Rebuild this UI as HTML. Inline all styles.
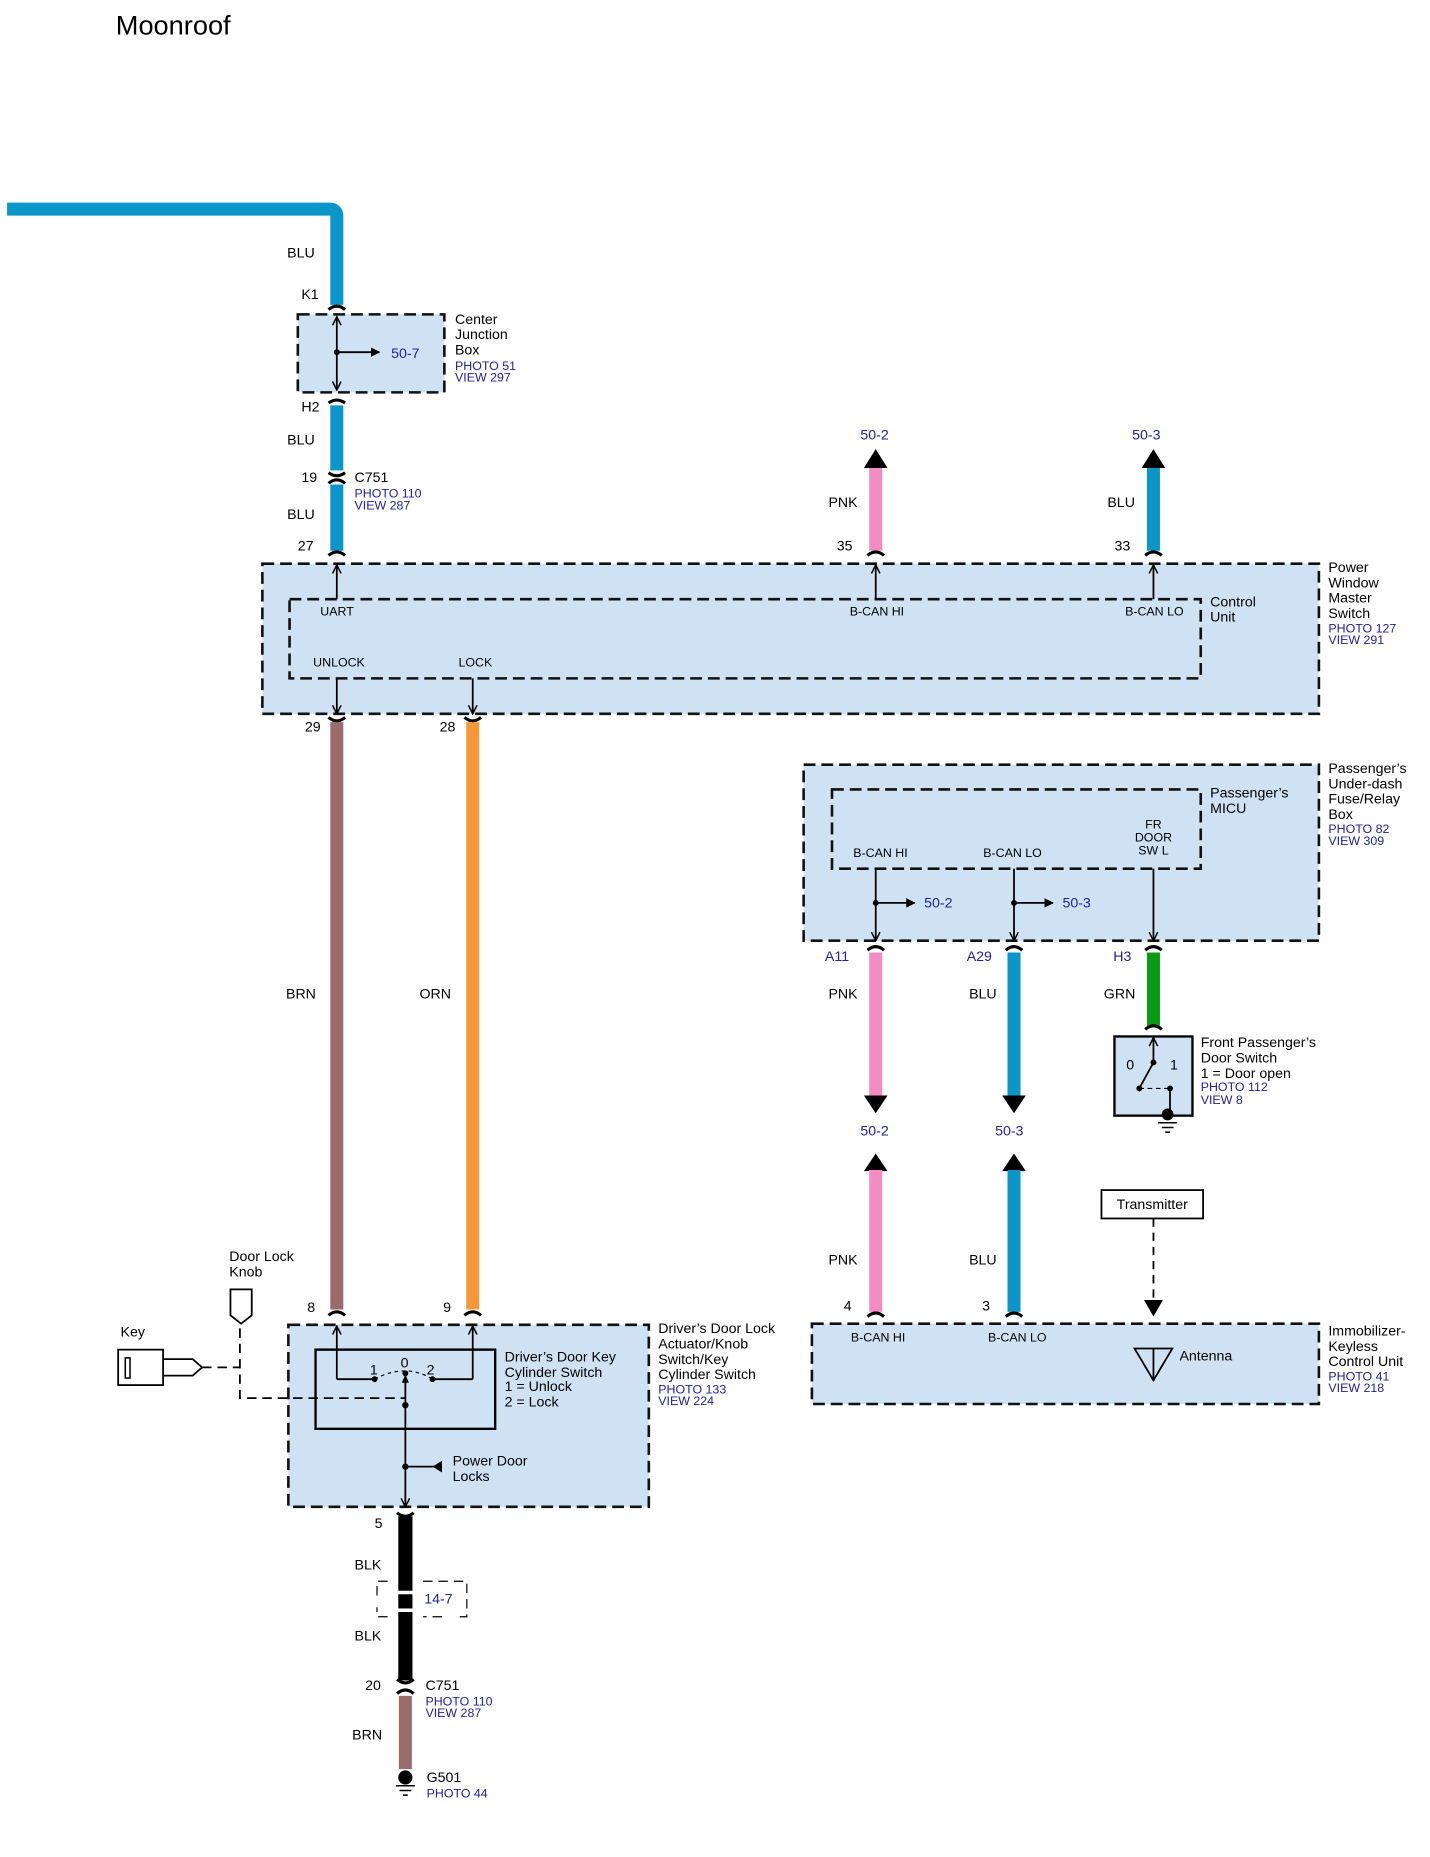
<!DOCTYPE html>
<html><head><meta charset="utf-8"><style>
html,body{margin:0;padding:0;background:#fff;}
svg{display:block;}
text{font-family:"Liberation Sans",Arial,sans-serif;fill:#000;font-size:12px;}
.b{fill:#22229a;font-size:10.5px;}
.bl{fill:#22229a;font-size:12px;}
.s{font-size:10.5px;}
.box{fill:#cfe2f3;stroke:#111;stroke-width:2.2;stroke-dasharray:10,5;}
.ibox{fill:none;stroke:#111;stroke-width:2.2;stroke-dasharray:10,5;}
.ln{stroke:#000;stroke-width:1.5;fill:none;}
.cap{stroke:#000;stroke-width:2.6;fill:none;}
</style></head><body>
<svg width="1430" height="1857" viewBox="0 0 1210 1571.3" xmlns="http://www.w3.org/2000/svg">
<defs>
<marker id="oa" viewBox="0 0 10 10" refX="9" refY="5" markerWidth="9" markerHeight="9" orient="auto-start-reverse" markerUnits="userSpaceOnUse"><path d="M1,1 L9,5 L1,9" fill="none" stroke="#000" stroke-width="1.4"/></marker>
<marker id="fa" viewBox="0 0 10 10" refX="9" refY="5" markerWidth="8" markerHeight="8" orient="auto" markerUnits="userSpaceOnUse"><path d="M0,0 L10,5 L0,10Z" fill="#000"/></marker>
</defs>
<text x="98" y="29" style="font-size:23px">Moonroof</text>

<!-- top blue wire -->
<path d="M6,177 H279 Q285,177 285,183 V258" stroke="#0a96c8" stroke-width="11" fill="none"/>
<text x="243" y="218">BLU</text>
<text x="255" y="253">K1</text>
<path class="cap" d="M278,262 Q285,256 292,262"/>
<rect class="box" x="252" y="266" width="124" height="66"/>
<path class="ln" d="M285,268 V330" marker-start="url(#oa)" marker-end="url(#oa)"/>
<circle cx="285" cy="298" r="2.5"/>
<path class="ln" d="M285,298 H321" marker-end="url(#fa)"/>
<text x="331" y="303" class="bl">50-7</text>
<text x="385" y="274">Center</text><text x="385" y="287">Junction</text><text x="385" y="300">Box</text>
<text x="385" y="313" class="b">PHOTO 51</text><text x="385" y="323" class="b">VIEW 297</text>
<path class="cap" d="M278,341 Q285,336 292,341"/>
<text x="255" y="348">H2</text>
<path d="M285,343 V398" stroke="#0a96c8" stroke-width="11"/>
<text x="243" y="376">BLU</text>
<path class="cap" d="M278,400 Q285,405 292,400"/>
<path class="cap" d="M278,409 Q285,403 292,409"/>
<text x="255" y="408">19</text><text x="300" y="408">C751</text>
<text x="300" y="421" class="b">PHOTO 110</text><text x="300" y="431" class="b">VIEW 287</text>
<path d="M285,410 V466" stroke="#0a96c8" stroke-width="11"/>
<text x="243" y="439">BLU</text>
<text x="252" y="466">27</text>
<path class="cap" d="M278,470 Q285,464 292,470"/>

<!-- PNK / BLU out -->
<text x="728" y="372" class="bl">50-2</text>
<path d="M741,395 V466" stroke="#f48cc4" stroke-width="11"/>
<path d="M731,396 L741,380 L751,396Z" fill="#000"/>
<text x="701" y="429">PNK</text><text x="708" y="466">35</text>
<path class="cap" d="M734,470 Q741,464 748,470"/>
<text x="958" y="372" class="bl">50-3</text>
<path d="M976,395 V466" stroke="#0a96c8" stroke-width="11"/>
<path d="M966,396 L976,380 L986,396Z" fill="#000"/>
<text x="937" y="429">BLU</text><text x="943" y="466">33</text>
<path class="cap" d="M969,470 Q976,464 983,470"/>

<!-- PWMS -->
<rect class="box" x="222" y="477" width="894" height="127"/>
<rect class="ibox" x="245" y="507" width="771" height="67"/>
<path class="ln" d="M285,507 V478" marker-end="url(#oa)"/>
<path class="ln" d="M741,507 V478" marker-end="url(#oa)"/>
<path class="ln" d="M976,507 V478" marker-end="url(#oa)"/>
<text x="271" y="521" class="s">UART</text>
<text x="719" y="521" class="s">B-CAN HI</text>
<text x="952" y="521" class="s">B-CAN LO</text>
<text x="265" y="564" class="s">UNLOCK</text>
<text x="388" y="564" class="s">LOCK</text>
<path class="ln" d="M285,574 V604" marker-end="url(#oa)"/>
<path class="ln" d="M400,574 V604" marker-end="url(#oa)"/>
<text x="1024" y="513">Control</text><text x="1024" y="526">Unit</text>
<text x="1124" y="484">Power</text><text x="1124" y="497">Window</text><text x="1124" y="510">Master</text><text x="1124" y="523">Switch</text>
<text x="1124" y="535" class="b">PHOTO 127</text><text x="1124" y="545" class="b">VIEW 291</text>

<!-- BRN / ORN -->
<text x="258" y="619">29</text><text x="372" y="619">28</text>
<path class="cap" d="M278,607 Q285,613 292,607"/>
<path class="cap" d="M393,607 Q400,613 407,607"/>
<path d="M285,611 V1108" stroke="#9b6a6a" stroke-width="11"/>
<path d="M400,611 V1108" stroke="#f7993a" stroke-width="11"/>
<text x="242" y="845">BRN</text><text x="355" y="845">ORN</text>
<text x="260" y="1110">8</text><text x="375" y="1110">9</text>
<path class="cap" d="M278,1113 Q285,1107 292,1113"/>
<path class="cap" d="M393,1113 Q400,1107 407,1113"/>

<!-- Passenger box -->
<rect class="box" x="680" y="647" width="436" height="149"/>
<rect class="ibox" x="704" y="668" width="312" height="67"/>
<text x="722" y="725" class="s">B-CAN HI</text>
<text x="832" y="725" class="s">B-CAN LO</text>
<text x="976" y="701" class="s" text-anchor="middle">FR</text>
<text x="976" y="712" class="s" text-anchor="middle">DOOR</text>
<text x="976" y="723" class="s" text-anchor="middle">SW L</text>
<path class="ln" d="M741,735 V796" marker-end="url(#oa)"/>
<path class="ln" d="M858,735 V796" marker-end="url(#oa)"/>
<path class="ln" d="M976,735 V796" marker-end="url(#oa)"/>
<circle cx="741" cy="764" r="2.5"/><circle cx="858" cy="764" r="2.5"/>
<path class="ln" d="M741,764 H774" marker-end="url(#fa)"/>
<path class="ln" d="M858,764 H891" marker-end="url(#fa)"/>
<text x="782" y="768" class="bl">50-2</text><text x="899" y="768" class="bl">50-3</text>
<text x="1024" y="675">Passenger’s</text><text x="1024" y="688">MICU</text>
<text x="1124" y="654">Passenger’s</text><text x="1124" y="667">Under-dash</text><text x="1124" y="680">Fuse/Relay</text><text x="1124" y="693">Box</text>
<text x="1124" y="705" class="b">PHOTO 82</text><text x="1124" y="715" class="b">VIEW 309</text>

<path class="cap" d="M734,804 Q741,798 748,804"/>
<path class="cap" d="M851,804 Q858,798 865,804"/>
<path class="cap" d="M969,804 Q976,798 983,804"/>
<text x="698" y="813" class="bl">A11</text><text x="818" y="813" class="bl">A29</text><text x="942" y="813" class="bl">H3</text>
<path d="M741,806 V928" stroke="#f48cc4" stroke-width="11"/>
<path d="M731,927 L741,942 L751,927Z" fill="#000"/>
<path d="M858,806 V928" stroke="#0a96c8" stroke-width="11"/>
<path d="M848,927 L858,942 L868,927Z" fill="#000"/>
<path d="M976,806 V868" stroke="#0a9a14" stroke-width="11"/>
<path class="cap" d="M969,871 Q976,865 983,871"/>
<text x="701" y="845">PNK</text><text x="820" y="845">BLU</text><text x="934" y="845">GRN</text>

<!-- door switch -->
<rect x="943" y="877" width="66" height="67" fill="#cfe2f3" stroke="#000" stroke-width="2"/>
<path class="ln" d="M976,900 V878" marker-end="url(#oa)"/>
<circle cx="976" cy="899" r="2.5"/>
<path class="ln" d="M976,899 L964,921"/>
<circle cx="964" cy="921" r="2.5"/><circle cx="990" cy="921" r="2.5"/>
<path d="M964,921 H990" stroke="#000" stroke-width="1" stroke-dasharray="4,3"/>
<path class="ln" d="M990,921 V940"/>
<circle cx="988" cy="943" r="5"/>
<path d="M980,950 H996 M983,954 H993 M986,958 H990" stroke="#000" stroke-width="1.3"/>
<text x="953" y="905">0</text><text x="990" y="905">1</text>
<text x="1016" y="886">Front Passenger’s</text><text x="1016" y="899">Door Switch</text><text x="1016" y="912">1 = Door open</text>
<text x="1016" y="923" class="b">PHOTO 112</text><text x="1016" y="934" class="b">VIEW 8</text>

<!-- lower pnk/blu -->
<text x="728" y="961" class="bl">50-2</text><text x="842" y="961" class="bl">50-3</text>
<path d="M731,991 L741,976 L751,991Z" fill="#000"/>
<path d="M848,991 L858,976 L868,991Z" fill="#000"/>
<path d="M741,990 V1110" stroke="#f48cc4" stroke-width="11"/>
<path d="M858,990 V1110" stroke="#0a96c8" stroke-width="11"/>
<text x="701" y="1070">PNK</text><text x="820" y="1070">BLU</text>
<text x="714" y="1109">4</text><text x="831" y="1109">3</text>
<path class="cap" d="M734,1114 Q741,1108 748,1114"/>
<path class="cap" d="M851,1114 Q858,1108 865,1114"/>

<rect x="932" y="1007" width="86" height="24" fill="#fff" stroke="#000" stroke-width="1.5"/>
<text x="975" y="1023" text-anchor="middle">Transmitter</text>
<path d="M976,1031 V1100" stroke="#000" stroke-width="1.5" stroke-dasharray="7,5"/>
<path d="M968,1100 L976,1114 L984,1100Z" fill="#000"/>

<rect class="box" x="687" y="1120" width="429" height="68"/>
<text x="720" y="1135" class="s">B-CAN HI</text><text x="836" y="1135" class="s">B-CAN LO</text>
<path d="M960,1141 H992 L976,1168 Z M976,1141 V1168" fill="none" stroke="#000" stroke-width="1.5"/>
<text x="998" y="1151">Antenna</text>
<text x="1124" y="1130">Immobilizer-</text><text x="1124" y="1143">Keyless</text><text x="1124" y="1156">Control Unit</text>
<text x="1124" y="1168" class="b">PHOTO 41</text><text x="1124" y="1178" class="b">VIEW 218</text>

<!-- driver box -->
<rect class="box" x="244" y="1121" width="305" height="154"/>
<rect x="267" y="1142" width="152" height="67" fill="none" stroke="#000" stroke-width="2"/>
<path class="ln" d="M285,1167 V1122" marker-end="url(#oa)"/>
<path class="ln" d="M285,1167 H317"/>
<path class="ln" d="M400,1167 V1122" marker-end="url(#oa)"/>
<path class="ln" d="M400,1167 H366"/>
<circle cx="317" cy="1167" r="2.5"/><circle cx="343" cy="1162" r="2.5"/><circle cx="366" cy="1167" r="2.5"/>
<path d="M317,1167 Q343,1153 366,1167" fill="none" stroke="#000" stroke-width="1" stroke-dasharray="3,3"/>
<path class="ln" d="M343,1189 V1164"/>
<path d="M340,1170 L343,1163 L346,1170Z" fill="#000"/>
<path class="ln" d="M343,1189 V1275" marker-end="url(#oa)"/>
<circle cx="343" cy="1189" r="2.7"/><circle cx="343" cy="1241" r="2.7"/>
<path class="ln" d="M343,1241 H372"/>
<path d="M374,1236 L366,1241 L374,1246Z" fill="#000"/>
<path d="M203,1124 V1183 H343" fill="none" stroke="#000" stroke-width="1.5" stroke-dasharray="8,5"/>
<path d="M195,1091 H213 V1113 L204,1120 L195,1113 Z" fill="#fff" stroke="#000" stroke-width="1.5"/>
<rect x="100" y="1142" width="38" height="30" fill="#fff" stroke="#000" stroke-width="1.5"/>
<rect x="106" y="1149" width="4" height="17" fill="none" stroke="#000" stroke-width="1.3"/>
<path d="M138,1150 H163 L171,1157 L163,1164 H138" fill="none" stroke="#000" stroke-width="1.5"/>
<path d="M171,1157 H203" stroke="#000" stroke-width="1.5" stroke-dasharray="8,5"/>
<text x="102" y="1131">Key</text>
<text x="194" y="1067">Door Lock</text><text x="194" y="1080">Knob</text>
<text x="313" y="1163">1</text><text x="339" y="1157">0</text><text x="361" y="1163">2</text>
<text x="427" y="1152">Driver’s Door Key</text><text x="427" y="1165">Cylinder Switch</text><text x="427" y="1177">1 = Unlock</text><text x="427" y="1190">2 = Lock</text>
<text x="383" y="1240">Power Door</text><text x="383" y="1253">Locks</text>
<text x="557" y="1128">Driver’s Door Lock</text><text x="557" y="1141">Actuator/Knob</text><text x="557" y="1154">Switch/Key</text><text x="557" y="1167">Cylinder Switch</text>
<text x="557" y="1179" class="b">PHOTO 133</text><text x="557" y="1189" class="b">VIEW 224</text>

<!-- bottom -->
<text x="317" y="1293">5</text>
<path class="cap" d="M336,1280 Q343,1286 350,1280"/>
<path d="M343,1283 V1422" stroke="#000" stroke-width="12"/>
<rect x="336" y="1346" width="14" height="3" fill="#fff"/>
<rect x="336" y="1361" width="14" height="3" fill="#fff"/>
<path d="M319,1350 V1338 H328 M358,1338 H395 V1368 H388 M374,1368 H358 M328,1368 H319 V1360" fill="none" stroke="#000" stroke-width="1" stroke-dasharray="8,5"/>
<text x="359" y="1357" class="bl">14-7</text>
<text x="300" y="1328">BLK</text><text x="300" y="1388">BLK</text>
<path class="cap" d="M336,1421 Q343,1427 350,1421"/>
<path class="cap" d="M336,1433 Q343,1427 350,1433"/>
<text x="309" y="1430">20</text><text x="360" y="1430">C751</text>
<text x="360" y="1443" class="b">PHOTO 110</text><text x="360" y="1453" class="b">VIEW 287</text>
<path d="M343,1435 V1497" stroke="#9b6a6a" stroke-width="11"/>
<text x="298" y="1472">BRN</text>
<circle cx="343" cy="1504" r="6"/>
<path d="M335,1511 H351 M338,1515 H348 M341,1519 H345" stroke="#000" stroke-width="1.3"/>
<text x="361" y="1508">G501</text>
<text x="361" y="1521" class="b">PHOTO 44</text>
</svg>
</body></html>
